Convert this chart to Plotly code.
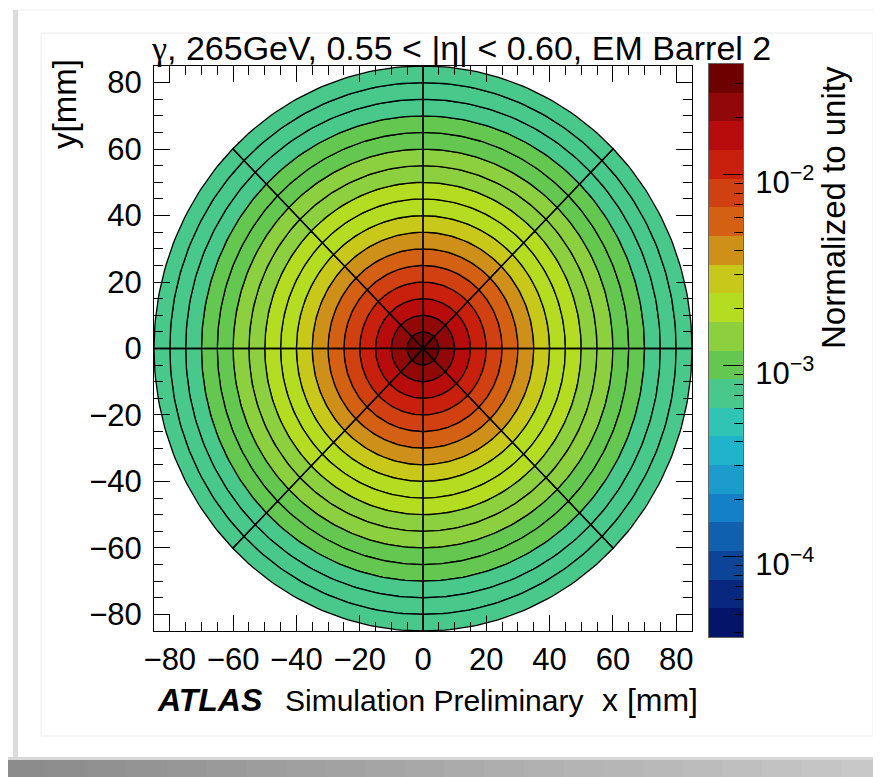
import math
import numpy as np
import plotly.graph_objects as go

# ---------------- data ----------------
ring_edges_mm = [0, 5, 10, 15, 20, 25, 30, 35, 40, 45, 50, 55, 60, 65, 70, 75, 80, 85]
ring_values = [0.033, 0.0225, 0.0155, 0.0110, 0.0078, 0.0056, 0.0040, 0.0029,
               0.0022, 0.0018, 0.0015, 0.0013, 0.00110, 0.00093, 0.00080,
               0.00070, 0.00062]
sector_edges_deg = [0, 45, 90, 135, 180, 225, 270, 315, 360]
axis_tick_vals = [-80, -60, -40, -20, 0, 20, 40, 60, 80]
axis_range = [-85, 85]
z_log_range = [-4.42, -1.42]
cbar_exponents = [-4, -3, -2]
palette = ["#041468", "#082880", "#0c4498", "#1060b0", "#1480c8", "#1c9ccc",
           "#20b4cc", "#30c4b4", "#48c88a", "#64c850", "#8cd040", "#b4dc20",
           "#c8c81a", "#cf901a", "#d46014", "#d04010", "#c8200c", "#b80c0c",
           "#900808", "#6e0000"]
title_text = ("<span style=\"font-family:'Liberation Serif', 'DejaVu Serif', serif\">γ</span>"
              ", 265GeV, 0.55 < |η| < 0.60, EM Barrel 2")

# ---------------- geometry helpers (page pixel -> paper) ----------------
OFF = 8                      # default body margin of the page
W, H = 881 - OFF, 777 - OFF  # figure size
PL, PR, PT, PB = 153, 743, 64, 637   # page coords of plotting region
ML, MR, MT, MB = PL - OFF, W - (PR - OFF), PT - OFF, H - (PB - OFF)
PW, PH = W - ML - MR, H - MT - MB


def px(x):
    return (x - OFF - ML) / PW


def py(y):
    return (H - MB - (y - OFF)) / PH


zmin, zmax = z_log_range
nc = len(palette)
step = (zmax - zmin) / nc


def color_for(v):
    k = int((math.log10(v) - zmin) // step)
    return palette[max(0, min(nc - 1, k))]


def sector_poly(r0, r1, a0, a1, n=40):
    t = np.radians(np.linspace(a0, a1, n))
    xo, yo = r1 * np.cos(t), r1 * np.sin(t)
    if r0 == 0:
        xs = [0.0] + list(xo) + [0.0]
        ys = [0.0] + list(yo) + [0.0]
    else:
        xi, yi = r0 * np.cos(t[::-1]), r0 * np.sin(t[::-1])
        xs = list(xo) + list(xi) + [xo[0]]
        ys = list(yo) + list(yi) + [yo[0]]
    return xs, ys


fig = go.Figure()

for i, v in enumerate(ring_values):
    r0, r1 = ring_edges_mm[i], ring_edges_mm[i + 1]
    X, Y = [], []
    for j in range(len(sector_edges_deg) - 1):
        xs, ys = sector_poly(r0, r1, sector_edges_deg[j], sector_edges_deg[j + 1])
        X += xs + [None]
        Y += ys + [None]
    fig.add_trace(go.Scatter(x=X, y=Y, mode="lines", fill="toself",
                             fillcolor=color_for(v),
                             line=dict(color="black", width=1.3),
                             hoverinfo="skip", showlegend=False,
                             xaxis="x", yaxis="y"))

# colour bar as a heatmap on its own axes
edges = np.linspace(zmin, zmax, nc + 1)
centers = (edges[:-1] + edges[1:]) / 2
cs = []
for k, c in enumerate(palette):
    cs.append([k / nc, c])
    cs.append([(k + 1) / nc, c])
fig.add_trace(go.Heatmap(x=[0, 1], y=edges, z=[[c] for c in centers],
                         colorscale=cs, zmin=zmin, zmax=zmax, showscale=False,
                         xaxis="x2", yaxis="y2", hoverinfo="skip"))

minor_cb = []
for e in range(-5, 0):
    for m in range(2, 10):
        lv = math.log10(m) + e
        if zmin < lv < zmax:
            minor_cb.append(lv)

FONT = "Liberation Sans, Arial, Helvetica, sans-serif"
axis_common = dict(range=axis_range, tickmode="array", tickvals=axis_tick_vals,
                   ticks="inside", ticklen=16, tickwidth=1, tickcolor="black",
                   minor=dict(ticks="inside", ticklen=9, dtick=5, tick0=0,
                              tickcolor="black", tickwidth=1),
                   showline=True, linecolor="black", linewidth=1, mirror="ticks",
                   showgrid=False, zeroline=False,
                   tickfont=dict(family=FONT, size=31, color="black"),
                   layer="above traces")

fig.update_layout(
    width=W, height=H,
    margin=dict(l=ML, r=MR, t=MT, b=MB, pad=0),
    paper_bgcolor="white", plot_bgcolor="rgba(0,0,0,0)",
    xaxis=dict(domain=[px(154), px(692)], anchor="y", ticklabelstandoff=1,
               **axis_common),
    yaxis=dict(domain=[py(631), py(66)], anchor="x", ticklabelstandoff=5,
               **axis_common),
    xaxis2=dict(domain=[px(709), 1], range=[0, 1], anchor="y2",
                showticklabels=False, ticks="", showgrid=False, zeroline=False,
                showline=True, linecolor="#666", linewidth=1, mirror=True),
    yaxis2=dict(domain=[0, 1], range=[zmin, zmax], anchor="x2", side="right",
                tickmode="array", tickvals=cbar_exponents,
                ticktext=["10<sup>−%d</sup>" % (-e) for e in cbar_exponents],
                ticks="inside", ticklen=20, tickcolor="black", tickwidth=1,
                minor=dict(ticks="inside", ticklen=9, tickvals=minor_cb,
                           tickcolor="black", tickwidth=1),
                showgrid=False, zeroline=False, showline=True, linecolor="#666",
                linewidth=1, mirror=True, ticklabelstandoff=5, ticklabelshift=7,
                tickfont=dict(family=FONT, size=31, color="black")),
    font=dict(family=FONT, color="black"),
)

# page decoration (card, frame, shadow)
shapes = []
shapes.append(dict(type="rect", xref="paper", yref="paper", layer="below",
                   x0=px(13), x1=px(18), y0=py(757), y1=py(10),
                   fillcolor="#dcdcdc", line=dict(width=0)))
shapes.append(dict(type="line", xref="paper", yref="paper", layer="below",
                   x0=px(18), x1=px(881), y0=py(10), y1=py(10),
                   line=dict(color="#eeeeee", width=1)))
shapes.append(dict(type="rect", xref="paper", yref="paper", layer="below",
                   x0=px(41), x1=px(873), y0=py(736), y1=py(33),
                   fillcolor="rgba(0,0,0,0)", line=dict(color="#ececec", width=1)))
nseg = 22
for s in range(nseg):
    x0 = 8 + (881 - 8) * s / nseg
    x1 = 8 + (881 - 8) * (s + 1) / nseg
    g = int(140 + 60 * s / (nseg - 1))
    shapes.append(dict(type="rect", xref="paper", yref="paper", layer="below",
                       x0=px(x0), x1=px(x1) + 0.002, y0=py(777), y1=py(760),
                       fillcolor="rgb(%d,%d,%d)" % (g, g, g), line=dict(width=0)))
shapes.append(dict(type="rect", xref="paper", yref="paper", layer="below",
                   x0=px(8), x1=px(881), y0=py(760), y1=py(757),
                   fillcolor="#d8d8d8", line=dict(width=0)))
fig.update_layout(shapes=shapes)

ann = []
ann.append(dict(text=title_text, x=px(149), y=py(48), xref="paper", yref="paper",
                xanchor="left", yanchor="middle", showarrow=False,
                font=dict(family=FONT, size=34, color="black")))
ann.append(dict(text="y[mm]", x=px(64), y=py(104), xref="paper", yref="paper",
                xanchor="center", yanchor="middle", textangle=-90, showarrow=False,
                font=dict(family=FONT, size=33, color="black")))
ann.append(dict(text="Normalized to unity", x=px(834), y=py(207), xref="paper",
                yref="paper", xanchor="center", yanchor="middle", textangle=-90,
                showarrow=False, font=dict(family=FONT, size=33, color="black")))
ann.append(dict(text="<b><i>ATLAS</i></b>", x=px(155), y=py(700), xref="paper",
                yref="paper", xanchor="left", yanchor="middle", showarrow=False,
                font=dict(family=FONT, size=32, color="black")))
ann.append(dict(text="Simulation Preliminary", x=px(283), y=py(700), xref="paper",
                yref="paper", xanchor="left", yanchor="middle", showarrow=False,
                font=dict(family=FONT, size=30, color="black")))
ann.append(dict(text="x [mm]", x=px(700), y=py(700), xref="paper", yref="paper",
                xanchor="right", yanchor="middle", showarrow=False,
                font=dict(family=FONT, size=32, color="black")))
fig.update_layout(annotations=ann)

fig.write_html("out.html")
